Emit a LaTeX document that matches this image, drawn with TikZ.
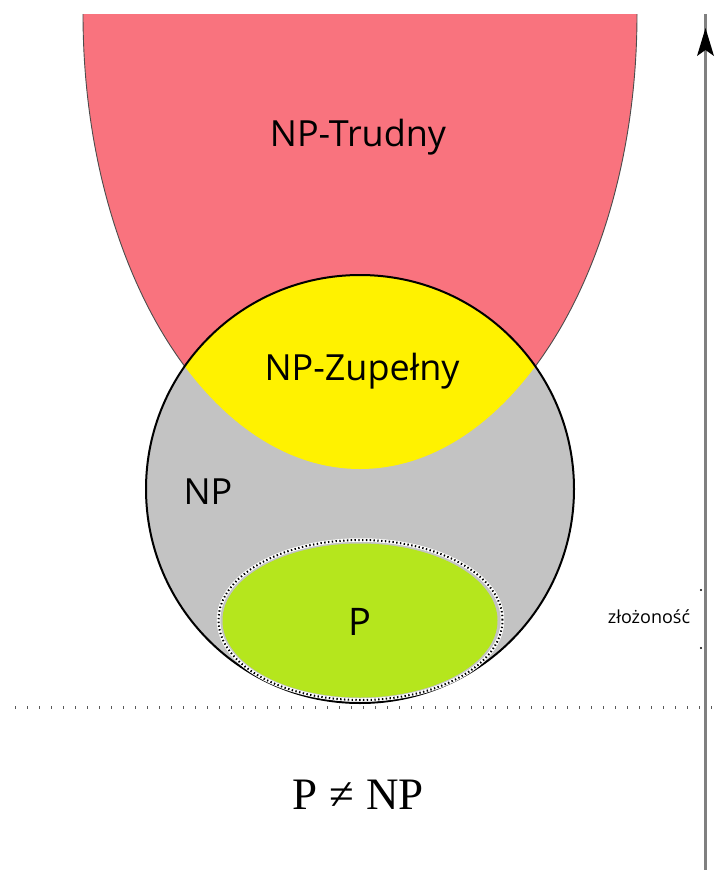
\documentclass[tikz,border=0pt]{standalone}
\usepackage{fontspec}
\setmainfont{Open Sans}
\newfontfamily\eqserif{Liberation Serif}
\definecolor{hardred}{RGB}{249,115,126}
\definecolor{npyellow}{RGB}{255,242,0}
\definecolor{npgray}{RGB}{195,195,195}
\definecolor{plime}{RGB}{181,230,29}
\definecolor{axisgray}{RGB}{128,128,128}
\tikzset{
  biglabel/.style={font=\fontsize{36}{40}\selectfont, text=black, inner sep=0pt},
  smalllabel/.style={font=\fontsize{18}{20}\selectfont, text=black, inner sep=0pt},
}
\begin{document}
\begin{tikzpicture}[x=1pt,y=-1pt]
\useasboundingbox (0,0) rectangle (720,870);
% NP-hard region
\begin{scope}
  \clip (0,14) rectangle (720,870);
  \fill[hardred, draw=black!70, line width=0.9pt] (360,14) ellipse [x radius=277pt, y radius=455pt];
\end{scope}
% NP circle
\fill[npgray] (360,489) circle [radius=214pt];
% NP-complete = intersection
\begin{scope}
  \clip (360,489) circle [radius=214pt];
  \fill[npyellow] (360,14) ellipse [x radius=277pt, y radius=455pt];
\end{scope}
\draw[black, line width=2pt] (360,489) circle [radius=214pt];
% P ellipse
\draw[white, line width=3.5pt] (360.5,620) ellipse [x radius=142pt, y radius=80pt];
\draw[black, line width=2pt, dash pattern=on 1.4pt off 2.4pt] (360.5,620) ellipse [x radius=142pt, y radius=80pt];
\fill[plime] (360,620.5) ellipse [x radius=137.5pt, y radius=77pt];
% dotted baseline
\draw[black!65, line width=3pt, dash pattern=on 1.2pt off 10.8pt] (15,707) -- (720,707);
% complexity axis
\coordinate (axbot) at (705,870);
\coordinate (axtop) at (705,14);
\draw[axisgray, line width=3pt] (axbot) -- (axtop);
\fill[black] (705.5,28) -- (714,56) -- (705.5,50) -- (697,56) -- cycle;
\fill[black] (701,590) circle (1.2pt);
\fill[black] (701,648) circle (1.2pt);
% labels
\node[biglabel] (hard) at (358,137) {NP-Trudny};
\node[biglabel] (complete) at (362,371) {NP-Zupełny};
\node[biglabel] (np) at (208,492) {NP};
\node[biglabel, font=\fontsize{38}{40}\selectfont] (p) at (360,622) {P};
\node[smalllabel] (cx) at (649,617) {złożoność};
\node[inner sep=0pt, font=\eqserif\fontsize{45}{48}\selectfont] (neq) at (358,795) {P\hspace{12pt}≠\hspace{12pt}NP};
\end{tikzpicture}
\end{document}
